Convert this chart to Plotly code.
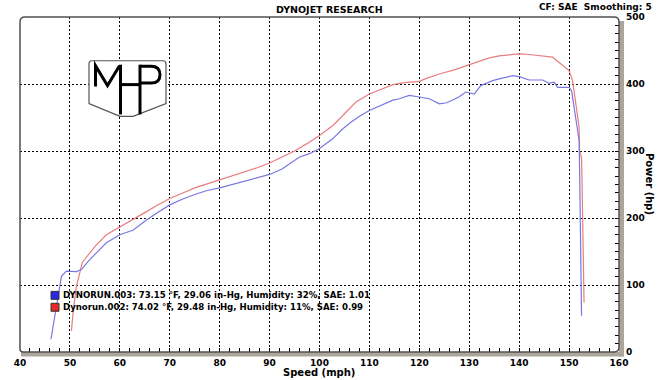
import plotly.graph_objects as go

# ---------------- data ----------------
speed_003 = [46.2, 47.0, 47.7, 48.3, 49.3, 50.5, 51.3, 52.3, 53.7, 55.3, 57.3, 60.0, 62.7, 65.0,
             67.5, 70.0, 72.5, 75.0, 77.5, 80.0, 82.5, 85.0, 87.5, 90.0, 92.5, 95.0, 96.0, 98.0,
             100.0, 102.7, 104.5, 106.3, 108.0, 110.0, 112.7, 114.7, 116.0, 118.0, 120.0, 122.0,
             124.0, 125.5, 126.7, 128.0, 129.3, 131.0, 132.3, 134.7, 136.0, 137.5, 138.7, 140.0,
             142.0, 144.7, 146.0, 147.0, 147.7, 148.7, 150.0, 150.5, 151.0, 151.7, 152.0, 152.1,
             152.3, 152.5]
power_003 = [19, 54, 89, 113, 120.6, 120, 120, 123, 135.5, 148, 163, 175, 182, 195,
             208, 219.6, 228, 235, 241, 245, 250, 255, 260, 265, 273, 285, 291, 296,
             303.7, 318.5, 332, 343, 352, 360.5, 369, 376, 378, 383, 380.6, 378,
             370.5, 372, 376, 381, 388, 385, 397.6, 405, 407.6, 410, 412.5, 411,
             406, 406, 401, 402.7, 395, 395, 395, 390, 365, 331, 316, 276,
             168, 54]

speed_002 = [50.3, 50.7, 51.3, 51.9, 52.5, 54.0, 55.3, 57.3, 60.0, 62.5, 65.0, 67.5, 70.0, 72.5,
             75.0, 77.5, 80.0, 82.5, 85.0, 87.5, 90.0, 92.5, 95.0, 97.5, 100.0, 102.7, 105.0,
             107.3, 110.0, 112.5, 114.7, 117.0, 120.0, 121.3, 124.0, 127.0, 130.0, 132.3, 134.0,
             136.0, 138.0, 140.0, 142.0, 144.0, 146.7, 148.0, 150.0, 150.7, 151.3, 152.0, 152.1,
             152.5, 152.6, 152.8, 153.0]
power_002 = [31.6, 64, 98, 118, 134, 148, 160, 175, 187, 198, 208, 219, 229, 237,
             245, 251, 257, 262, 268, 275, 282, 291, 300, 311, 323, 338, 356,
             373, 385, 393, 399, 402, 404, 408, 415, 421, 429, 435, 439,
             442, 443, 445, 444, 442, 440, 432, 420, 405, 375, 336, 301,
             289, 252, 173, 74]

x_ticks = [40, 50, 60, 70, 80, 90, 100, 110, 120, 130, 140, 150, 160]
y_ticks = [0, 100, 200, 300, 400, 500]

title_text = "DYNOJET RESEARCH"
info_text = "CF: SAE  Smoothing: 5"
x_title = "Speed (mph)"
y_title = "Power (hp)"
legend_003 = "DYNORUN.003: 73.15 °F, 29.06 in-Hg, Humidity: 32%, SAE: 1.01"
legend_002 = "Dynorun.002: 74.02 °F, 29.48 in-Hg, Humidity: 11%, SAE: 0.99"

# ---------------- layout helpers ----------------
W, H = 659, 380
L, R, T, B = 20, 40, 16, 27
PW, PH = W - L - R, H - T - B


def px(x):
    return (x - L) / PW


def py(y):
    return (H - B - y) / PH


def path(points, close=False):
    s = ""
    for cmd, pts in points:
        s += cmd
        s += " ".join(f"{px(a):.5f},{py(b):.5f}" for a, b in pts) + " "
    if close:
        s += "Z"
    return s


FONT = "DejaVu Sans"
BLUE = "rgb(120,120,225)"
RED = "rgb(232,125,130)"

fig = go.Figure()
fig.add_trace(go.Scatter(x=speed_002, y=power_002, mode="lines",
                         line=dict(color=RED, width=1.2), name="Dynorun.002"))
fig.add_trace(go.Scatter(x=speed_003, y=power_003, mode="lines",
                         line=dict(color=BLUE, width=1.2), name="DYNORUN.003"))

grid = dict(showgrid=True, gridcolor="black", gridwidth=1, griddash="2px,2px")

fig.update_layout(
    width=W, height=H,
    margin=dict(l=L, r=R, t=T, b=B),
    paper_bgcolor="white", plot_bgcolor="white",
    showlegend=False,
    xaxis=dict(range=[40, 160], tickvals=x_ticks, ticktext=[str(v) for v in x_ticks],
               ticks="inside", ticklen=4, tickcolor="black", tickwidth=1,
               minor=dict(dtick=2, ticks="inside", ticklen=4, tickcolor="black", tickwidth=1, showgrid=False),
               zeroline=False, showline=False,
               tickfont=dict(family=FONT, size=9, color="black", weight="bold"),
               ticklabelstandoff=4, **grid),
    yaxis=dict(range=[0, 500], tickvals=y_ticks, ticktext=[str(v) for v in y_ticks], side="right",
               ticks="inside", ticklen=4, tickcolor="black", tickwidth=1,
               minor=dict(dtick=12.5, ticks="inside", ticklen=4, tickcolor="black", tickwidth=1, showgrid=False),
               zeroline=False, showline=False,
               tickfont=dict(family=FONT, size=9, color="black", weight="bold"),
               ticklabelstandoff=6, **grid),
)

shapes = []
# axis bars (bottom and right)
BAR = "#aaa69b"
shapes.append(dict(type="rect", xref="paper", yref="paper", x0=px(21), x1=px(623), y0=py(357.5), y1=py(353),
                   fillcolor=BAR, line=dict(width=0), layer="below"))
shapes.append(dict(type="rect", xref="paper", yref="paper", x0=px(619), x1=px(624), y0=py(357.5), y1=py(20),
                   fillcolor=BAR, line=dict(width=0), layer="below"))
# frame
frame = path([("M", [(20, 350)]), ("L", [(20, 21)]), ("Q", [(20, 16), (25, 16)]), ("L", [(614, 16)]),
              ("Q", [(619, 16), (619, 21)]), ("L", [(619, 348)]), ("Q", [(619, 353), (614, 353)]),
              ("L", [(23, 353)]), ("Q", [(20, 353), (20, 350)])])
shapes.append(dict(type="path", xref="paper", yref="paper", path=frame,
                   line=dict(color="#505050", width=1.5), layer="above"))

# MHP logo shield
shield = path([("M", [(89, 63)]), ("Q", [(89, 60), (92, 60)]), ("L", [(163, 60)]), ("Q", [(166, 60), (166, 63)]),
               ("L", [(166, 103)]), ("L", [(133, 116)]), ("L", [(120, 116)]), ("L", [(89, 103)])], close=True)
shapes.append(dict(type="path", xref="paper", yref="paper", path=shield,
                   fillcolor="white", line=dict(color="#555555", width=1.2), layer="above"))
# M
m_path = path([("M", [(95.5, 86)]), ("L", [(95.5, 65)]), ("L", [(107.5, 85)]), ("L", [(119.5, 65)])])
shapes.append(dict(type="path", xref="paper", yref="paper", path=m_path,
                   line=dict(color="black", width=3), layer="above"))
# H
for xs in (120.5, 140):
    shapes.append(dict(type="line", xref="paper", yref="paper", x0=px(xs), x1=px(xs), y0=py(64), y1=py(114),
                       line=dict(color="black", width=3), layer="above"))
shapes.append(dict(type="line", xref="paper", yref="paper", x0=px(120.5), x1=px(140), y0=py(84), y1=py(84),
                   line=dict(color="black", width=3), layer="above"))
# P bowl
p_path = path([("M", [(140, 65.5)]), ("L", [(151, 65.5)]), ("Q", [(160, 65.5), (160, 74)]),
               ("Q", [(160, 82.5), (151, 82.5)]), ("L", [(140, 82.5)])])
shapes.append(dict(type="path", xref="paper", yref="paper", path=p_path,
                   line=dict(color="black", width=3), layer="above"))

# legend squares
for yy, c in ((296, "rgb(40,40,230)"), (308, "rgb(230,40,40)")):
    shapes.append(dict(type="rect", xref="paper", yref="paper", x0=px(51), x1=px(59), y0=py(yy + 4), y1=py(yy - 4),
                       fillcolor=c, line=dict(color="#333333", width=1), layer="above"))

fig.update_layout(shapes=shapes)

ann = []
ann.append(dict(text=title_text, x=px(329), y=py(8), xref="paper", yref="paper", showarrow=False,
                xanchor="center", yanchor="middle", font=dict(family=FONT, size=9.5, color="black", weight="bold")))
ann.append(dict(text=info_text, x=px(654), y=py(6), xref="paper", yref="paper", showarrow=False,
                xanchor="right", yanchor="middle", font=dict(family=FONT, size=9, color="black", weight="bold")))
ann.append(dict(text=x_title, x=px(319), y=py(374), xref="paper", yref="paper", showarrow=False,
                xanchor="center", yanchor="middle", font=dict(family=FONT, size=10, color="black", weight="bold")))
ann.append(dict(text=y_title, x=px(650), y=py(184), xref="paper", yref="paper", showarrow=False, textangle=90,
                xanchor="center", yanchor="middle", font=dict(family=FONT, size=10, color="black", weight="bold")))
ann.append(dict(text=legend_003, x=px(61), y=py(296), xref="paper", yref="paper", showarrow=False,
                xanchor="left", yanchor="middle", font=dict(family=FONT, size=8.6, color="black", weight="bold")))
ann.append(dict(text=legend_002, x=px(61), y=py(308), xref="paper", yref="paper", showarrow=False,
                xanchor="left", yanchor="middle", font=dict(family=FONT, size=8.6, color="black", weight="bold")))
fig.update_layout(annotations=ann)

fig.write_html("out.html", config={"displayModeBar": False},
               post_script="document.body.style.margin='0';document.body.style.padding='0';"
                           "document.documentElement.style.overflow='hidden';")
